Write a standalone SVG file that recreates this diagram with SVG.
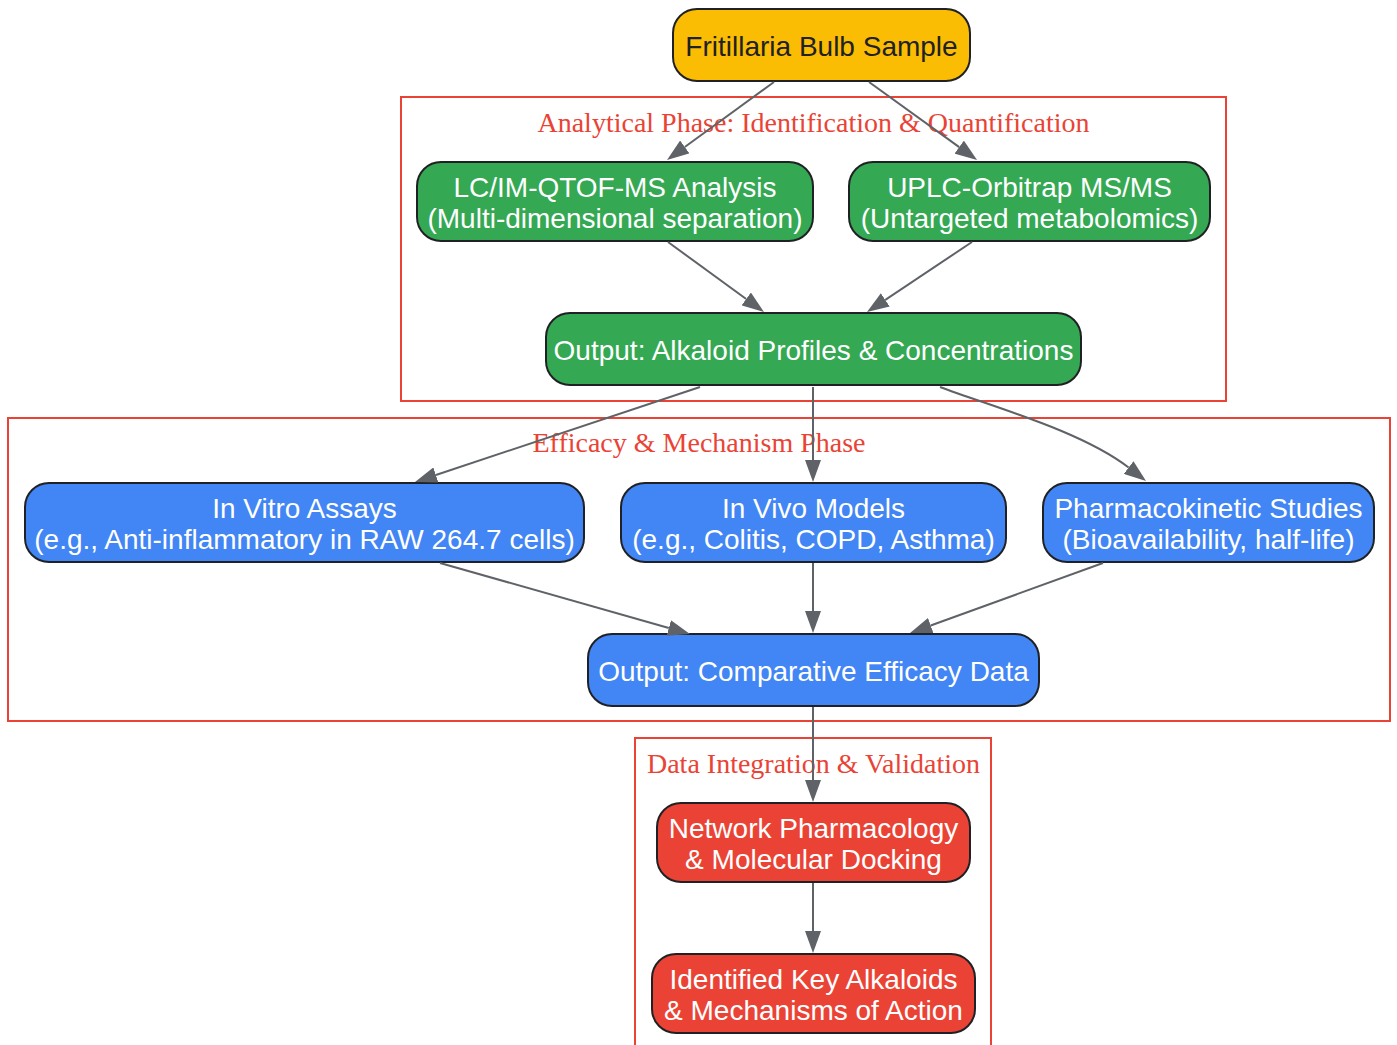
<svg xmlns="http://www.w3.org/2000/svg" width="1397" height="1045" viewBox="0 0 1397 1045">
<defs>
<style>
.cluster{fill:none;stroke:#ea4335;stroke-width:2}
.clabel{font-family:"Liberation Serif","Times New Roman",serif;font-size:28px;fill:#ea4335;text-anchor:middle}
.node rect{stroke:#202124;stroke-width:2}
.node text{font-family:"Liberation Sans",Arial,sans-serif;font-size:28px;text-anchor:middle;fill:#ffffff}
.yellow rect{fill:#fbbc04}
.yellow text{fill:#202124}
.green rect{fill:#34a853}
.blue rect{fill:#4285f4}
.red rect{fill:#ea4335}
.edge{fill:none;stroke:#5f6368;stroke-width:2;marker-end:url(#arrow)}
</style>
<marker id="arrow" markerUnits="userSpaceOnUse" markerWidth="22" markerHeight="16" viewBox="0 0 22 16" refX="0" refY="8" orient="auto">
<path d="M0,0 L22,8 L0,16 z" fill="#5f6368"/>
</marker>
</defs>
<rect width="1397" height="1045" fill="#ffffff"/>
<g id="clusters">
<g id="cluster_analytical">
<rect class="cluster" x="401" y="97" width="825" height="304"/>
<text class="clabel" x="813.5" y="132">Analytical Phase: Identification &amp; Quantification</text>
</g>
<g id="cluster_efficacy">
<rect class="cluster" x="8" y="418" width="1382" height="303"/>
<text class="clabel" x="699" y="452">Efficacy &amp; Mechanism Phase</text>
</g>
<g id="cluster_integration">
<rect class="cluster" x="635" y="738" width="356" height="330"/>
<text class="clabel" x="813.5" y="773">Data Integration &amp; Validation</text>
</g>
</g>
<g id="nodes">
<g id="sample" class="node yellow">
<rect x="673" y="9" width="297" height="72" rx="24"/>
<text x="821.5" y="56">Fritillaria Bulb Sample</text>
</g>
<g id="lcms" class="node green">
<rect x="417" y="162" width="396" height="79" rx="24"/>
<text x="615" y="197">LC/IM-QTOF-MS Analysis</text>
<text x="615" y="228">(Multi-dimensional separation)</text>
</g>
<g id="uplc" class="node green">
<rect x="849" y="162" width="361" height="79" rx="24"/>
<text x="1029.5" y="197">UPLC-Orbitrap MS/MS</text>
<text x="1029.5" y="228">(Untargeted metabolomics)</text>
</g>
<g id="alkaloid_output" class="node green">
<rect x="546" y="313" width="535" height="72" rx="24"/>
<text x="813.5" y="360">Output: Alkaloid Profiles &amp; Concentrations</text>
</g>
<g id="invitro" class="node blue">
<rect x="25" y="483" width="559" height="79" rx="24"/>
<text x="304.5" y="518">In Vitro Assays</text>
<text x="304.5" y="549">(e.g., Anti-inflammatory in RAW 264.7 cells)</text>
</g>
<g id="invivo" class="node blue">
<rect x="621" y="483" width="385" height="79" rx="24"/>
<text x="813.5" y="518">In Vivo Models</text>
<text x="813.5" y="549">(e.g., Colitis, COPD, Asthma)</text>
</g>
<g id="pk" class="node blue">
<rect x="1043" y="483" width="331" height="79" rx="24"/>
<text x="1208.5" y="518">Pharmacokinetic Studies</text>
<text x="1208.5" y="549">(Bioavailability, half-life)</text>
</g>
<g id="efficacy_output" class="node blue">
<rect x="588" y="634" width="451" height="72" rx="24"/>
<text x="813.5" y="681">Output: Comparative Efficacy Data</text>
</g>
<g id="network" class="node red">
<rect x="657" y="803" width="313" height="79" rx="24"/>
<text x="813.5" y="838">Network Pharmacology</text>
<text x="813.5" y="869">&amp; Molecular Docking</text>
</g>
<g id="identified" class="node red">
<rect x="652" y="954" width="323" height="79" rx="24"/>
<text x="813.5" y="989">Identified Key Alkaloids</text>
<text x="813.5" y="1020">&amp; Mechanisms of Action</text>
</g>
</g>
<g id="connectors">
<path class="edge" d="M774,82 L684.8,147"/>
<path class="edge" d="M869,82 L959.2,147.1"/>
<path class="edge" d="M668,242 L746.2,299"/>
<path class="edge" d="M972,242 L885.3,299.8"/>
<path class="edge" d="M700,387 L435.9,475"/>
<path class="edge" d="M813,387 L813,460"/>
<path class="edge" d="M940,387 C996,408 1081,431 1128.6,467.5"/>
<path class="edge" d="M440,563 L668.8,628"/>
<path class="edge" d="M813,563 L813,611"/>
<path class="edge" d="M1103,563 L930.7,625.5"/>
<path class="edge" d="M813,707 L813,780"/>
<path class="edge" d="M813,883 L813,931"/>
</g>
</svg>
